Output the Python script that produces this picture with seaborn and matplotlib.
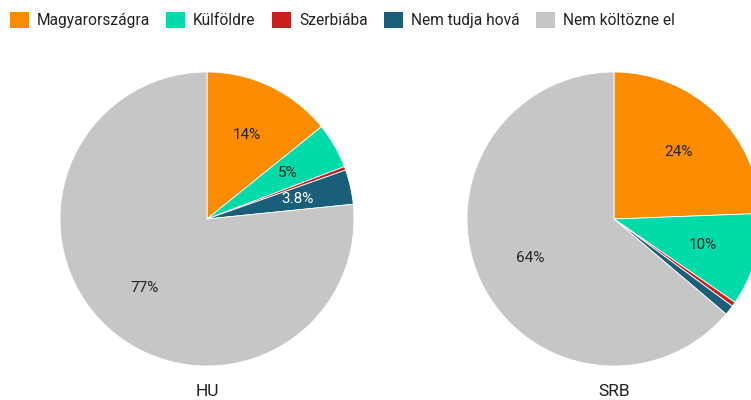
import matplotlib
matplotlib.use("Agg")
import numpy as np
import matplotlib.pyplot as plt
from matplotlib.patches import Patch
import seaborn as sns

# Where would respondents move (share of answers, %)
categories = ["Magyarországra", "Külföldre", "Szerbiába", "Nem tudja hová", "Nem költözne el"]
hu_values = [14.2, 5.0, 0.4, 3.8, 76.6]
srb_values = [24.4, 10.2, 0.5, 1.1, 63.8]
group_labels = ["HU", "SRB"]

palette = sns.color_palette(["#FB8C00", "#00DBA9", "#C9201F", "#195F7A", "#C6C6C6"])
text_colors = ["#222222", "#222222", "#222222", "#FFFFFF", "#222222"]

sns.set_theme(style="white")
plt.rcParams["font.family"] = ["Roboto", "DejaVu Sans"]

fig = plt.figure(figsize=(7.51, 4.0), dpi=100)
ax = fig.add_axes([0, 0, 1, 1])

W, H = 751, 400
radius = 147
centers = [(207, H - 219), (614, H - 219)]

for values, center, label in zip([hu_values, srb_values], centers, group_labels):
    ax.pie(
        values,
        colors=palette,
        startangle=90,
        counterclock=False,
        center=center,
        radius=radius,
        wedgeprops=dict(linewidth=0.6, edgecolor="white"),
    )
    # percentage labels inside the larger slices
    total = sum(values)
    cum = 0.0
    for v, tc in zip(values, text_colors):
        mid = cum + v / 2
        cum += v
        if v / total * 100 < 2:
            continue
        ang = np.deg2rad(90 - mid / total * 360)
        x = center[0] + 0.63 * radius * np.cos(ang)
        y = center[1] + 0.63 * radius * np.sin(ang)
        ax.text(x, y, f"{v / total * 100:.2g}%", ha="center", va="center",
                fontsize=11, color=tc)
    ax.text(center[0], H - 391, label, ha="center", va="center",
            fontsize=12.5, color="#222222")

ax.set_xlim(0, W)
ax.set_ylim(0, H)
ax.set_aspect("auto")
ax.axis("off")

handles = [Patch(facecolor=c, edgecolor="none") for c in palette]
fig.legend(
    handles, categories,
    loc="upper left", bbox_to_anchor=(10 / W, 1 - 12 / H),
    ncol=5, frameon=False, fontsize=11.2,
    handlelength=1.22, handleheight=1.22, handletextpad=0.5,
    columnspacing=1.06, borderpad=0, borderaxespad=0, labelcolor="#222222",
)

fig.savefig("out.png", dpi=100)
